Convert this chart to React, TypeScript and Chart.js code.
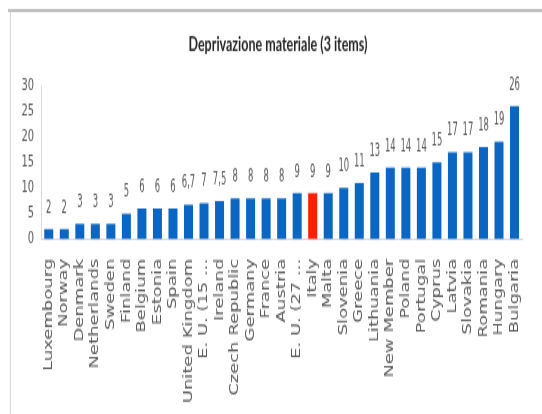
import React, { useEffect, useRef } from "react";
import { Chart, registerables } from "chart.js";

Chart.register(...registerables);

const TITLE = "Deprivazione materiale (3 items)";

const categories: string[] = [
  "Luxembourg", "Norway", "Denmark", "Netherlands", "Sweden", "Finland",
  "Belgium", "Estonia", "Spain", "United Kingdom", "E. U. (15 ...", "Ireland",
  "Czech Republic", "Germany", "France", "Austria", "E. U. (27 ...", "Italy",
  "Malta", "Slovenia", "Greece", "Lithuania", "New Member", "Poland",
  "Portugal", "Cyprus", "Latvia", "Slovakia", "Romania", "Hungary", "Bulgaria",
];

const values: number[] = [
  2, 2, 3, 3, 3, 5, 6, 6, 6, 6.7, 7, 7.5, 8, 8, 8, 8, 9, 9, 9, 10, 11, 13, 14,
  14, 14, 15, 17, 17, 18, 19, 26,
];

const highlighted: string[] = ["Italy"];

const yTicks = { min: 0, max: 30, step: 5 };

const BLUE = "#0B66C3";
const RED = "#FF1E00";
const TEXT = "#595959";
const NARROW = '"Liberation Sans Narrow", "DejaVu Sans Condensed", "Arial Narrow", sans-serif';

const W = 542;
const H = 414;
const S = 1.5;
const CH = H / S;

export default function App() {
  const ref = useRef<HTMLCanvasElement | null>(null);

  useEffect(() => {
    if (!ref.current) return;
    const framePlugin = {
      id: "frame",
      beforeDraw(chart: any) {
        const ctx = chart.ctx;
        ctx.save();
        ctx.fillStyle = "#ffffff";
        ctx.fillRect(0, 0, chart.width, chart.height);
        ctx.strokeStyle = "#a6a6a6";
        ctx.lineWidth = 1.4;
        ctx.beginPath();
        ctx.moveTo(8, 7);
        ctx.lineTo(chart.width, 7);
        ctx.stroke();
        ctx.strokeStyle = "#d9d9d9";
        ctx.lineWidth = 1.2;
        ctx.beginPath();
        ctx.moveTo(10.5, 7.5);
        ctx.lineTo(10.5, chart.height);
        ctx.stroke();
        // title
        ctx.fillStyle = "#262626";
        ctx.font = 'bold 12.5px Lato, "Open Sans", sans-serif';
        ctx.textAlign = "center";
        ctx.textBaseline = "middle";
        ctx.fillText(TITLE, 278, 29.5);
        ctx.restore();
      },
    };
    const labelPlugin = {
      id: "valueLabels",
      afterDatasetsDraw(chart: any) {
        const ctx = chart.ctx;
        const meta = chart.getDatasetMeta(0);
        meta.data.forEach((bar: any, i: number) => {
          const txt = String(values[i]).replace(".", ",");
          ctx.save();
          ctx.fillStyle = TEXT;
          ctx.font = `13px ${NARROW}`;
          ctx.textAlign = "center";
          ctx.textBaseline = "bottom";
          ctx.translate(bar.x, bar.y - 8);
          ctx.scale(0.72, 1);
          ctx.fillText(txt, 0, 0);
          ctx.restore();
        });
      },
    };

    const chart = new Chart(ref.current, {
      type: "bar",
      data: {
        labels: categories,
        datasets: [
          {
            data: values,
            backgroundColor: categories.map((c) => (highlighted.includes(c) ? RED : BLUE)),
            categoryPercentage: 1,
            barPercentage: 0.58,
          },
        ],
      },
      options: {
        responsive: false,
        devicePixelRatio: 1,
        animation: false,
        layout: { padding: { top: 57, left: 0, right: 4, bottom: 0 } },
        plugins: {
          legend: { display: false },
          title: { display: false },
          tooltip: { enabled: false },
        },
        scales: {
          x: {
            grid: { display: false, drawTicks: false },
            border: { display: true, color: "#d9d9d9", width: 1 },
            ticks: {
              autoSkip: false,
              maxRotation: 90,
              minRotation: 90,
              padding: 13,
              color: TEXT,
              font: { family: '"DejaVu Sans", sans-serif', size: 12 },
            },
            afterFit(scale: any) {
              scale.height = CH - 159.5 - 0;
            },
          },
          y: {
            min: yTicks.min,
            max: yTicks.max,
            grid: { display: false, drawTicks: false },
            border: { display: true, color: "#d9d9d9", width: 1 },
            ticks: {
              stepSize: yTicks.step,
              autoSkip: false,
              padding: 7,
              color: TEXT,
              font: { family: NARROW, size: 11 },
            },
            afterFit(scale: any) {
              scale.width = 41;
            },
          },
        },
      },
      plugins: [framePlugin, labelPlugin],
    } as any);
    return () => chart.destroy();
  }, []);

  return (
    <div
      style={{
        position: "absolute",
        left: 0,
        top: 0,
        width: W,
        height: H,
        overflow: "hidden",
        background: "#fff",
      }}
    >
      <canvas
        ref={ref}
        width={W}
        height={CH}
        style={{
          width: W + "px",
          height: CH + "px",
          display: "block",
          transform: `scaleY(${S})`,
          transformOrigin: "0 0",
        }}
      />
    </div>
  );
}
